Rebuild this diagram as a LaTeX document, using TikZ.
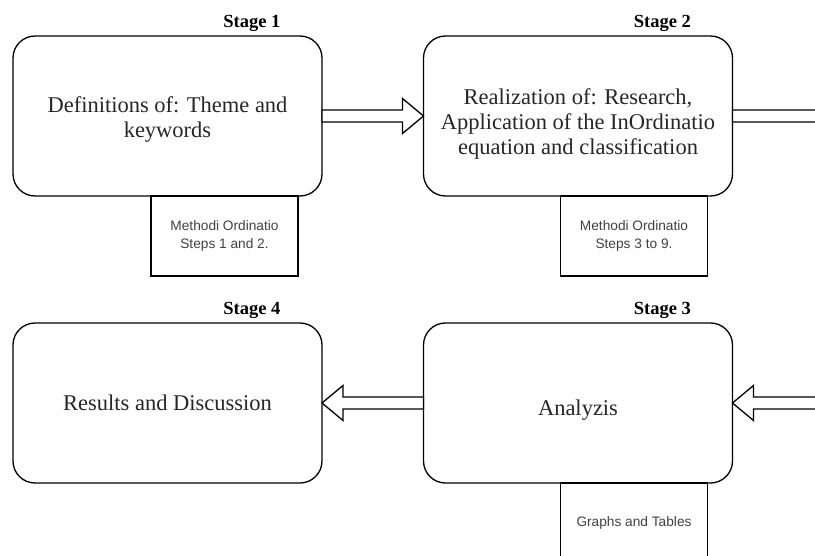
\documentclass[tikz,border=0pt]{standalone}
\usepackage{fontspec}
\setmainfont{Liberation Serif}
\newfontfamily\notefont{Liberation Sans}
\usetikzlibrary{positioning, calc}
\newcommand\bigtext{\fontsize{22.5}{25}\selectfont}
\newcommand\padtop[1]{\rule{0pt}{#1pt}}
\newcommand\rightblock[2]{\draw[blockarrow] ($(#1)+(0,-6)$) -- ($(#2)+(-21,-6)$) -- ($(#2)+(-21,-17.5)$) -- (#2) -- ($(#2)+(-21,17.5)$) -- ($(#2)+(-21,6)$) -- ($(#1)+(0,6)$) -- cycle;}
\newcommand\leftblock[2]{\draw[blockarrow] ($(#1)+(0,-6)$) -- ($(#2)+(21,-6)$) -- ($(#2)+(21,-17.5)$) -- (#2) -- ($(#2)+(21,17.5)$) -- ($(#2)+(21,6)$) -- ($(#1)+(0,6)$) -- cycle;}

\begin{document}
\begin{tikzpicture}[x=1pt, y=-1pt, line width=1.3pt,
  stagebox/.style={draw, outer sep=0pt, rounded corners=22pt, minimum width=309pt, minimum height=160pt, align=center, font=\bigtext, text=black!85},
  notebox/.style={draw, outer sep=0pt, minimum width=147pt, minimum height=80pt, align=center, font=\notefont\fontsize{13.7}{18.5}\selectfont, text=black!75},
  stagelabel/.style={font=\bfseries\fontsize{18.5}{20}\selectfont, inner sep=0pt},
  blockarrow/.style={draw, fill=white, line join=miter}]
\useasboundingbox (0,0) rectangle (815,556);
\clip (0,0) rectangle (815,556);

\node[stagebox] (def) at (167.5,116) {\padtop{23}Definitions of: Theme and\\keywords};
\node[stagebox] (real) at (578,116) {\padtop{31}Realization of: Research,\\Application of the InOrdinatio\\equation and classification};
\node[stagebox] (anal) at (578,403) {\padtop{29}Analyzis};
\node[stagebox] (res) at (167.5,403) {Results and Discussion};

\node[stagelabel, above left=4pt and 41pt of def.north east] (st1) {Stage 1};
\node[stagelabel, above left=4pt and 41pt of real.north east] (st2) {Stage 2};
\node[stagelabel, above left=4pt and 41pt of anal.north east] (st3) {Stage 3};
\node[stagelabel, above left=4pt and 41pt of res.north east] (st4) {Stage 4};

\node[notebox, below left=0pt and 24pt of def.south east] (n1) {Methodi Ordinatio\\Steps 1 and 2.};
\node[notebox, below left=0pt and 25pt of real.south east] (n2) {Methodi Ordinatio\\Steps 3 to 9.};
\node[notebox, below left=0pt and 25pt of anal.south east] (n3) {Graphs and Tables};

% arrows leaving / entering the page on the right
\coordinate (outtop) at (860,116);
\coordinate (inbot) at (860,403);

\rightblock{def.east}{real.west}
\rightblock{real.east}{outtop}
\leftblock{inbot}{anal.east}
\leftblock{anal.west}{res.east}
\end{tikzpicture}
\end{document}
